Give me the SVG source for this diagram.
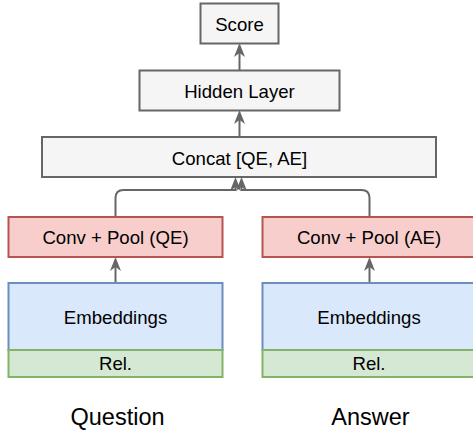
<svg xmlns="http://www.w3.org/2000/svg" width="473" height="437" viewBox="0 0 473 437">
<defs>
<style>
.g{fill:#f5f5f5;stroke:#666666;stroke-width:2}
.r{fill:#f8cecc;stroke:#b85450;stroke-width:2}
.b{fill:#dae8fc;stroke:#6c8ebf;stroke-width:2}
.gr{fill:#d5e8d4;stroke:#82b366;stroke-width:2}
text{font-family:"Liberation Sans",Arial,sans-serif;font-size:18.6px;fill:#000;text-anchor:middle}
.big{font-size:23.5px}
.c{fill:none;stroke:#666666;stroke-width:2}
</style>
<marker id="arr" viewBox="-15 -6 16 12" refX="-10" refY="0" markerWidth="16" markerHeight="12" markerUnits="userSpaceOnUse" orient="auto">
<path d="M0,0 L-14,-5.5 L-10,0 L-14,5.5 Z" fill="#666666"/>
</marker>
</defs>
<rect width="473" height="437" fill="#ffffff"/>
<g id="connectors">
<path class="c" d="M239.5 70 V53" marker-end="url(#arr)"/>
<path class="c" d="M239.5 137 V120" marker-end="url(#arr)"/>
<path class="c" d="M115.5 217 V198 Q115.5 190 123.5 190 H235.5 V187" marker-end="url(#arr)"/>
<path class="c" d="M369.5 217 V198 Q369.5 190 361.5 190 H241.5 V187" marker-end="url(#arr)"/>
<path class="c" d="M115.5 283 V267" marker-end="url(#arr)"/>
<path class="c" d="M369.5 283 V267" marker-end="url(#arr)"/>
</g>
<g id="score"><rect class="g" x="200.5" y="3.5" width="78" height="40"/><text x="239.5" y="30.5">Score</text></g>
<g id="hidden"><rect class="g" x="139.5" y="70.5" width="200" height="40"/><text x="239.5" y="97.5">Hidden Layer</text></g>
<g id="concat"><rect class="g" x="42" y="137" width="394" height="40"/><text x="239.5" y="164.5">Concat [QE, AE]</text></g>
<g id="convq"><rect class="r" x="8.5" y="217" width="214" height="40"/><text x="115.5" y="244">Conv + Pool (QE)</text></g>
<g id="conva"><rect class="r" x="262.5" y="217" width="214" height="40"/><text x="369" y="244">Conv + Pool (AE)</text></g>
<g id="embq"><rect class="b" x="8.5" y="283" width="214" height="67"/><text x="115.5" y="324">Embeddings</text></g>
<g id="emba"><rect class="b" x="262.5" y="283" width="214" height="67"/><text x="369" y="324">Embeddings</text></g>
<g id="relq"><rect class="gr" x="8.5" y="350" width="214" height="27"/><text x="115.5" y="370">Rel.</text></g>
<g id="rela"><rect class="gr" x="262.5" y="350" width="214" height="27"/><text x="369" y="370">Rel.</text></g>
<g id="labels"><text class="big" x="117.5" y="425">Question</text><text class="big" x="370.5" y="425">Answer</text></g>
</svg>
